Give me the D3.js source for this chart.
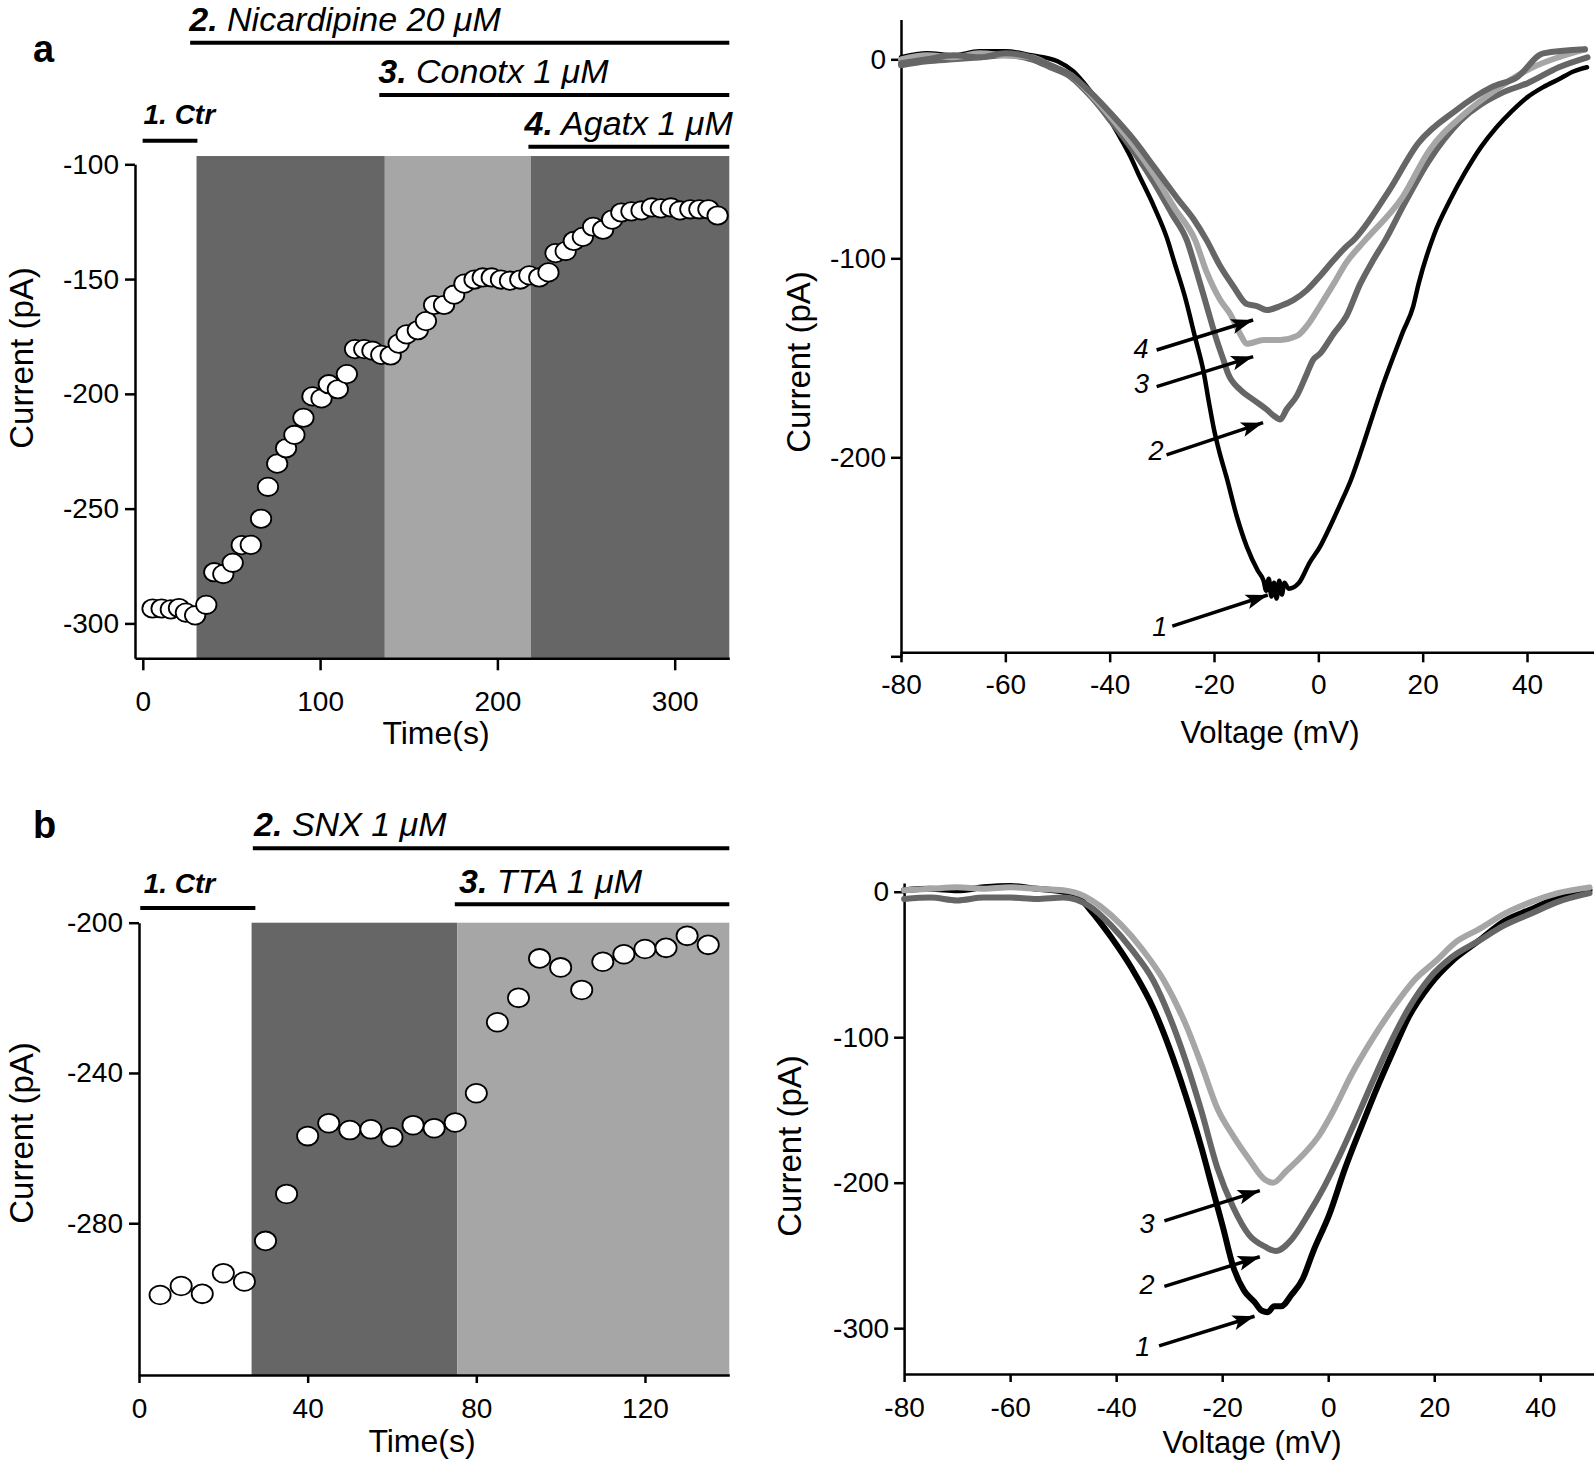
<!DOCTYPE html>
<html>
<head>
<meta charset="utf-8">
<script src="https://cdn.jsdelivr.net/npm/d3@7"></script>
<style>
  body { margin: 0; background: #fff; }
  svg { display: block; }
  text { white-space: pre; }
</style>
</head>
<body>
<svg id="fig" width="1594" height="1470"></svg>
<script>
// ================= DATA =================
// Panel a (left): time course, current (pA) vs time (s)
const timeA = [5.5,10.6,15.8,20.4,24.3,29.5,35.8,40.3,45.4,50.7,55.8,60.9,66.7,70.6,75.8,80.8,85.5,90.6,95.7,100.8,104.9,110,115.1,119.7,124.9,129.5,134.5,139.8,144.3,148.8,155.1,159.7,164.3,169.9,175.6,181.4,187.1,191.7,196.8,202,207.1,212.9,218,223.6,228.8,232.8,238.5,243.1,248.2,254,259.6,264.7,269.9,275.6,281.3,287.1,292.2,297.9,303,308.8,313.9,319,324.2];
const currentA = [-293.5,-293.5,-293.9,-293.3,-295.3,-296.5,-291.9,-277.7,-278.5,-273.6,-265.9,-265.8,-254.4,-240.5,-230.4,-223.7,-217.9,-210.4,-201.1,-202,-195.8,-198,-191.4,-180.5,-180.5,-181.2,-183,-183.3,-178.1,-174.1,-172.3,-168.3,-161.3,-161.3,-156.8,-152,-150.2,-149.3,-149.3,-150.2,-150.7,-150.2,-148.4,-149.3,-147.1,-138.7,-137.8,-133.4,-131.6,-127.2,-128.5,-124.1,-121,-120.5,-120.1,-118.8,-119.2,-118.8,-120.1,-119.6,-119.6,-119.6,-122.3];
const xTicksA = [0, 100, 200, 300];
const yTicksA = [-100, -150, -200, -250, -300];
const bandStartA = [30.3, 136.5, 218.9];
const bandEndA = [136.5, 218.9, 330.8];
const bandKindA = ["dark", "light", "dark"];
const bandTopA = -96.4;
const drugNumA = ["1.", "2.", "3.", "4."];
const drugNameA = [" Ctr", " Nicardipine 20 \u03bcM", " Conotx 1 \u03bcM", " Agatx 1 \u03bcM"];
const drugTextStartA = [0.4, 26.2, 132.8, 215.3];
const drugBarStartA = [-0.1, 26.7, 133.4, 217.5];
const drugBarEndA = [30.8, 330.8, 330.8, 330.8];

// Panel a (right): I-V curves, current (pA) vs voltage (mV)
const ivA_V1 = [-80,-75,-70,-65,-60,-55,-50,-47,-44,-41,-38.5,-36,-34.6,-31.5,-29,-27.6,-25.5,-23.6,-22,-21,-20,-19,-17.6,-15.6,-13.7,-11.6,-10.5,-10,-9.5,-9,-8.5,-8,-7.5,-7,-6.5,-5.7,-3.7,-1.7,0.3,2.2,4.3,6.3,8.3,10.3,12.2,14.3,16.2,18.2,19.2,22.2,25.2,28.1,31.2,34.2,37.1,40.1,43.1,46.1,49,51.5];
const ivA_I1 = [1,3,2,4,4,2,-1,-6,-15,-26,-37,-49,-57,-74,-90,-102,-120,-140,-157,-172,-186,-197,-210,-230,-245,-257,-262,-267,-261,-270,-263,-271,-262,-269,-263,-266,-263,-253,-245,-235,-223,-211,-196,-180,-165,-150,-137,-124,-113,-88,-71,-57,-44,-34,-26,-19,-14,-10,-6,-4];
const ivA_V2 = [-80,-75,-70,-65,-60,-55,-51.4,-47.4,-43.5,-39.5,-35.5,-31.5,-28,-25.2,-23.3,-21.4,-19.5,-18.2,-17.3,-15,-12.5,-9.9,-8.6,-7.3,-6.1,-4.1,-2.2,-1,0.3,2.9,5.4,8,10.5,12.8,16.2,21.2,27.2,35.1,40.1,46.1,51.6];
const ivA_I2 = [-3,-1,0,1,2,0,-4,-9,-19,-32,-46,-62,-78,-91,-107,-124,-141,-151,-158,-166,-171,-176,-179,-181,-176,-169,-158,-151,-148,-138,-129,-113,-101,-91,-74,-51,-31,-17,-12,-4,1];
const ivA_V3 = [-80,-75,-70,-65,-60,-55,-51.4,-47.4,-43.5,-39.5,-35.5,-31.5,-27.5,-23.6,-21.4,-18.8,-16.9,-15,-13.7,-10.5,-7.3,-4.1,-2.2,0.3,2.9,5.4,8.6,16.2,21.2,28.2,34.2,41.1,46,51.1];
const ivA_I3 = [0,2,1,3,2,1,-3,-8,-18,-30,-43,-58,-75,-91,-107,-121,-128,-138,-143,-141,-141,-139,-134,-124,-113,-102,-92,-69,-46,-27,-15,-4,1,5];
const ivA_V4 = [-80,-75,-70,-65,-60,-55,-51.4,-47.4,-43.5,-39.5,-35.5,-31.5,-27,-24,-21.4,-18.8,-16.3,-13.7,-11.8,-9.9,-7.3,-4.8,-2.2,0.3,2.9,5.4,6.7,13.3,19.2,26.2,33.2,38.1,43.1,51.1];
const ivA_I4 = [-2,0,2,1,3,1,-3,-8,-17,-28,-40,-54,-70,-80,-91,-104,-114,-123,-124,-126,-124,-121,-116,-109,-101,-94,-91,-67,-42,-26,-14,-9,3,5];
const ivXTicks = [-80, -60, -40, -20, 0, 20, 40];
const ivYTicksA = [0, -100, -200, -300];
const ivYLabelsA = ["0", "-100", "-200", ""];
const arrowLabelsA = ["1", "2", "3", "4"];
const arrowFromVA = [-28.0, -29.1, -31.0, -31.0];
const arrowFromIA = [-284.8, -198.8, -164.5, -146.1];
const arrowToVA = [-9.7, -10.6, -12.5, -12.5];
const arrowToIA = [-269.2, -182.6, -149.4, -131.0];
const arrowLabelVA = [-30.4, -31.1, -33.9, -34.0];
const arrowLabelIA = [-289.8, -201.4, -167.7, -150.1];

// Panel b (left): time course
const timeB = [5,10,15,20,25,30,35,40,45,50,55,60,65,70,75,80,85,90,95,100,105,110,115,120,125,130,135];
const currentB = [-299.1,-296.7,-298.8,-293.3,-295.5,-284.7,-272.2,-256.8,-253.4,-255.2,-255,-257.1,-253.9,-254.7,-253.2,-245.4,-226.5,-220,-209.5,-211.9,-217.9,-210.4,-208.4,-207,-206.7,-203.5,-205.9];
const xTicksB = [0, 40, 80, 120];
const yTicksB = [-200, -240, -280];
const bandStartB = [26.7, 75.5];
const bandEndB = [75.5, 140];
const bandKindB = ["dark", "light"];
const bandTopB = -200;
const drugNumB = ["1.", "2.", "3."];
const drugNameB = [" Ctr", " SNX 1 \u03bcM", " TTA 1 \u03bcM"];
const drugTextStartB = [1.1, 27.3, 75.9];
const drugBarStartB = [0.3, 27, 74.9];
const drugBarEndB = [27.6, 140, 140];

// Panel b (right): I-V curves
const ivB_V1 = [-80,-75,-70,-65,-60,-55,-50,-47,-45,-41,-37,-33,-29.9,-26.9,-23.9,-21.9,-19.9,-17.9,-15.9,-13.9,-12.5,-11.4,-10.2,-8.9,-6.9,-4.8,-2.8,0.2,3.2,6.2,9.2,12.2,15.2,19.2,23.3,28.3,33.3,38.3,43.3,49.3];
const ivB_I1 = [1,2,1,3,4,2,0,-4,-12,-31,-53,-80,-108,-140,-176,-203,-230,-258,-274,-282,-288,-289,-285,-285,-277,-266,-247,-222,-190,-162,-135,-110,-86,-64,-48,-34,-20,-12,-4,1];
const ivB_V2 = [-80,-75,-70,-65,-60,-55,-50,-45,-41,-37,-33,-29.9,-26.9,-23.9,-20.9,-17.9,-14.9,-11.9,-9.9,-6.9,-3.8,-0.8,2.2,5.2,8.2,11.2,15.2,19.2,23.3,28.3,33.3,38.3,43.3,49.3];
const ivB_I2 = [-5,-4,-6,-4,-4,-5,-4,-10,-23,-40,-61,-86,-116,-151,-190,-217,-236,-244,-247,-239,-222,-203,-181,-157,-132,-108,-80,-59,-45,-34,-23,-15,-7,-1];
const ivB_V3 = [-80,-75,-70,-65,-60,-55,-50,-46,-43,-39,-35,-31,-26.9,-23.9,-20.9,-17.9,-14.9,-11.9,-10.4,-7.9,-4.8,-1.8,1.2,4.2,8.2,12.2,16.2,20.2,24.3,28.3,33.3,38.3,43.3,49.3];
const ivB_I3 = [1,2,3,2,3,2,1,-3,-10,-23,-40,-61,-91,-119,-149,-168,-184,-198,-200,-192,-181,-168,-149,-127,-102,-80,-61,-48,-34,-26,-15,-7,-1,3];
const ivYTicksB = [0, -100, -200, -300];
const arrowLabelsB = ["1", "2", "3"];
const arrowFromVB = [-31.9, -30.9, -30.9];
const arrowFromIB = [-312.2, -271.3, -226.3];
const arrowToVB = [-13.9, -12.9, -12.9];
const arrowToIB = [-291.8, -250.9, -205.4];
const arrowLabelVB = [-35.0, -34.2, -34.2];
const arrowLabelIB = [-319.1, -276.8, -234.6];

// ================= STYLE =================
const FONT = '"Liberation Sans", Arial, Helvetica, sans-serif';
const SHADE = { dark: "#666666", light: "#a6a6a6" };
const TRACE_COLOR = { "1": "#000000", "2": "#666666", "3": "#a6a6a6", "4": "#666666" };

const svg = d3.select("#fig");
svg.append("rect").attr("width", 1594).attr("height", 1470).attr("fill", "#fff");

const defs = svg.append("defs");
defs.append("marker")
  .attr("id", "arrowhead")
  .attr("markerUnits", "userSpaceOnUse")
  .attr("viewBox", "-2 -9 28 18")
  .attr("markerWidth", 28).attr("markerHeight", 18)
  .attr("refX", 22).attr("refY", 0)
  .attr("orient", "auto")
  .append("path")
  .attr("d", "M0,-7.5 L22,0 L0,7.5 L5,0 Z")
  .attr("fill", "#000");

function styleAxis(g, fs) {
  g.select("path.domain").attr("stroke", "#000").attr("stroke-width", 2.5).attr("fill", "none");
  g.selectAll(".tick line").attr("stroke", "#000").attr("stroke-width", 2.5);
  g.selectAll(".tick text").attr("font-family", FONT).attr("font-size", fs).attr("fill", "#000");
}

function panelLetter(txt, x, y) {
  svg.append("text").attr("x", x).attr("y", y).attr("font-family", FONT)
    .attr("font-weight", "bold").attr("font-size", 38).text(txt);
}

function yTitle(x, y) {
  svg.append("text").attr("transform", `translate(${x},${y}) rotate(-90)`)
    .attr("text-anchor", "middle").attr("font-family", FONT).attr("font-size", 33)
    .text("Current (pA)");
}

function xTitle(txt, x, y, fs) {
  svg.append("text").attr("x", x).attr("y", y).attr("text-anchor", "middle")
    .attr("font-family", FONT).attr("font-size", fs).text(txt);
}

// ---------- time course panel ----------
function timeCourse(cfg) {
  const x = d3.scaleLinear().domain(cfg.xDomain).range(cfg.xRange);
  const y = d3.scaleLinear().domain(cfg.yDomain).range(cfg.yRange);
  const g = svg.append("g");
  const bands = cfg.bandStart.map((s, i) => ({ s, e: cfg.bandEnd[i], k: cfg.bandKind[i] }));
  g.selectAll("rect.band").data(bands).join("rect").attr("class", "band")
    .attr("x", d => x(d.s)).attr("width", d => x(d.e) - x(d.s))
    .attr("y", y(cfg.bandTop)).attr("height", y(cfg.yDomain[0]) - y(cfg.bandTop))
    .attr("fill", d => SHADE[d.k]);

  const ax = g.append("g").attr("transform", `translate(0,${y(cfg.yDomain[0])})`)
    .call(d3.axisBottom(x).tickValues(cfg.xTicks).tickFormat(d => String(d))
      .tickSize(cfg.xTickSize).tickPadding(cfg.xTickPad).tickSizeOuter(0));
  styleAxis(ax, 28);
  const ay = g.append("g").attr("transform", `translate(${x(cfg.xDomain[0])},0)`)
    .call(d3.axisLeft(y).tickValues(cfg.yTicks).tickFormat(d => String(d))
      .tickSize(10).tickPadding(6).tickSizeOuter(0));
  styleAxis(ay, 28);

  const pts = cfg.time.map((t, i) => ({ t, v: cfg.current[i] }));
  g.selectAll("ellipse.pt").data(pts).join("ellipse").attr("class", "pt")
    .attr("cx", d => x(d.t)).attr("cy", d => y(d.v))
    .attr("rx", cfg.rx).attr("ry", cfg.ry)
    .attr("fill", "#fff").attr("stroke", "#000").attr("stroke-width", 1.8);

  // treatment labels and bars
  cfg.drugNum.forEach((num, i) => {
    const row = cfg.rows[i];
    const t = g.append("text").attr("x", x(cfg.drugTextStart[i])).attr("y", row.text)
      .attr("font-family", FONT).attr("font-size", row.fs).attr("font-style", "italic");
    t.append("tspan").attr("font-weight", "bold").text(num);
    t.append("tspan").attr("font-weight", i === 0 ? "bold" : "normal").text(cfg.drugName[i]);
    g.append("line").attr("x1", x(cfg.drugBarStart[i])).attr("x2", x(cfg.drugBarEnd[i]))
      .attr("y1", row.bar).attr("y2", row.bar).attr("stroke", "#000").attr("stroke-width", 4);
  });
}

// ---------- IV panel ----------
function ivPanel(cfg) {
  const x = d3.scaleLinear().domain(cfg.xDomain).range(cfg.xRange);
  const y = d3.scaleLinear().domain(cfg.yDomain).range(cfg.yRange);
  const g = svg.append("g");
  const ax = g.append("g").attr("transform", `translate(0,${y(cfg.xAxisAt)})`)
    .call(d3.axisBottom(x).tickValues(ivXTicks).tickFormat(d => String(d))
      .tickSize(cfg.xTickSize).tickPadding(cfg.xTickPad).tickSizeOuter(0));
  styleAxis(ax, 28);
  const ay = g.append("g").attr("transform", `translate(${x(cfg.xDomain[0])},0)`)
    .call(d3.axisLeft(y).tickValues(cfg.yTicks).tickFormat((d, i) => cfg.yLabels[i])
      .tickSize(10).tickPadding(5).tickSizeOuter(0));
  styleAxis(ay, 28);

  const line = d3.line().x(d => x(d[0])).y(d => y(d[1])).curve(d3.curveMonotoneX);
  cfg.traces.forEach(tr => {
    const pts = tr.V.map((v, i) => [v, tr.I[i]]);
    g.append("path").datum(pts).attr("d", line).attr("fill", "none")
      .attr("stroke", TRACE_COLOR[tr.id]).attr("stroke-width", tr.w)
      .attr("stroke-linejoin", "round").attr("stroke-linecap", "round");
  });

  cfg.arrowLabels.forEach((lab, i) => {
    g.append("line")
      .attr("x1", x(cfg.fromV[i])).attr("y1", y(cfg.fromI[i]))
      .attr("x2", x(cfg.toV[i])).attr("y2", y(cfg.toI[i]))
      .attr("stroke", "#000").attr("stroke-width", 3.5)
      .attr("marker-end", "url(#arrowhead)");
    g.append("text").attr("x", x(cfg.labV[i])).attr("y", y(cfg.labI[i]))
      .attr("text-anchor", "middle").attr("font-family", FONT).attr("font-style", "italic")
      .attr("font-size", 27).text(lab);
  });
}

// ================= DRAW =================
panelLetter("a", 33, 62);
panelLetter("b", 33, 838);

timeCourse({
  xDomain: [-4.4, 330.8], xRange: [135, 729.3],
  yDomain: [-315.2, -100], yRange: [658.3, 164.3],
  xTicks: xTicksA, yTicks: yTicksA, xTickSize: 12, xTickPad: 21,
  bandStart: bandStartA, bandEnd: bandEndA, bandKind: bandKindA, bandTop: bandTopA,
  time: timeA, current: currentA, rx: 10.2, ry: 9.2,
  drugNum: drugNumA, drugName: drugNameA, drugTextStart: drugTextStartA,
  drugBarStart: drugBarStartA, drugBarEnd: drugBarEndA,
  rows: [{ text: 124, bar: 140.7, fs: 28 }, { text: 31, bar: 42.7, fs: 34 },
         { text: 83, bar: 95, fs: 34 }, { text: 135, bar: 146.7, fs: 34 }]
});

timeCourse({
  xDomain: [0, 140], xRange: [139, 729.3],
  yDomain: [-320.4, -200], yRange: [1375, 922.7],
  xTicks: xTicksB, yTicks: yTicksB, xTickSize: 8, xTickPad: 15,
  bandStart: bandStartB, bandEnd: bandEndB, bandKind: bandKindB, bandTop: bandTopB,
  time: timeB, current: currentB, rx: 10.6, ry: 9.4,
  drugNum: drugNumB, drugName: drugNameB, drugTextStart: drugTextStartB,
  drugBarStart: drugBarStartB, drugBarEnd: drugBarEndB,
  rows: [{ text: 892.7, bar: 908, fs: 28 }, { text: 836, bar: 848.3, fs: 34 },
         { text: 892.7, bar: 904.3, fs: 34 }]
});

ivPanel({
  xDomain: [-80, 52.8], xRange: [901, 1593.8],
  yDomain: [-300, 20], yRange: [656.3, 19.5], xAxisAt: -298,
  xTickSize: 10, xTickPad: 12,
  yTicks: ivYTicksA, yLabels: ivYLabelsA,
  traces: [
    { id: "1", V: ivA_V1, I: ivA_I1, w: 4.5 },
    { id: "2", V: ivA_V2, I: ivA_I2, w: 6 },
    { id: "3", V: ivA_V3, I: ivA_I3, w: 6 },
    { id: "4", V: ivA_V4, I: ivA_I4, w: 6 }
  ],
  arrowLabels: arrowLabelsA, fromV: arrowFromVA, fromI: arrowFromIA,
  toV: arrowToVA, toI: arrowToIA, labV: arrowLabelVA, labI: arrowLabelIA
});

ivPanel({
  xDomain: [-80, 50.1], xRange: [904.1, 1593.8],
  yDomain: [-331.5, 6], yRange: [1374, 883],
  xAxisAt: -331.5, xTickSize: 8, xTickPad: 15,
  yTicks: ivYTicksB, yLabels: ["0", "-100", "-200", "-300"],
  traces: [
    { id: "1", V: ivB_V1, I: ivB_I1, w: 6 },
    { id: "2", V: ivB_V2, I: ivB_I2, w: 6 },
    { id: "3", V: ivB_V3, I: ivB_I3, w: 6 }
  ],
  arrowLabels: arrowLabelsB, fromV: arrowFromVB, fromI: arrowFromIB,
  toV: arrowToVB, toI: arrowToIB, labV: arrowLabelVB, labI: arrowLabelIB
});

// axis titles
yTitle(33, 358);
yTitle(33, 1133);
yTitle(810, 362);
yTitle(801, 1146);
xTitle("Time(s)", 436, 744, 32);
xTitle("Time(s)", 422, 1452, 32);
xTitle("Voltage (mV)", 1270, 743, 31);
xTitle("Voltage (mV)", 1252, 1453, 31);
</script>
</body>
</html>
